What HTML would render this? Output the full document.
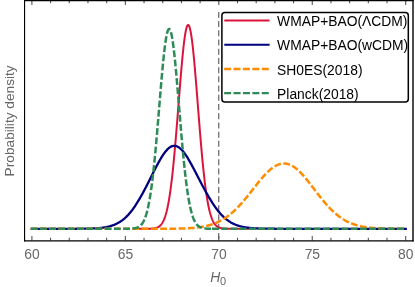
<!DOCTYPE html><html><head><meta charset="utf-8"><style>html,body{margin:0;padding:0;background:#fff}svg{display:block;will-change:transform}text{font-family:"Liberation Sans",sans-serif}</style></head><body>
<svg width="415" height="287" viewBox="0 0 415 287">
<rect width="415" height="287" fill="#fff"/>
<line x1="218.7" y1="11.9" x2="218.7" y2="240.5" stroke="#777" stroke-width="1.35" stroke-dasharray="6.0 3.21"/>
<path d="M138.00 228.80 L138.14 228.80 L138.28 228.80 L138.43 228.80 L138.57 228.80 L138.71 228.80 L138.85 228.80 L139.00 228.80 L139.14 228.80 L139.28 228.80 L139.43 228.80 L139.57 228.80 L139.71 228.80 L139.85 228.80 L140.00 228.80 L140.14 228.80 L140.28 228.80 L140.42 228.80 L140.56 228.80 L140.71 228.80 L140.85 228.80 L140.99 228.80 L141.13 228.80 L141.28 228.80 L141.42 228.80 L141.56 228.80 L141.71 228.80 L141.85 228.80 L141.99 228.80 L142.13 228.80 L142.28 228.80 L142.42 228.80 L142.56 228.80 L142.70 228.80 L142.84 228.80 L142.99 228.80 L143.13 228.80 L143.27 228.80 L143.41 228.80 L143.56 228.79 L143.70 228.79 L143.84 228.79 L143.99 228.79 L144.13 228.79 L144.27 228.79 L144.41 228.79 L144.56 228.79 L144.70 228.79 L144.84 228.79 L144.98 228.79 L145.12 228.79 L145.27 228.79 L145.41 228.79 L145.55 228.79 L145.69 228.79 L145.84 228.78 L145.98 228.78 L146.12 228.78 L146.26 228.78 L146.41 228.78 L146.55 228.78 L146.69 228.78 L146.84 228.78 L146.98 228.78 L147.12 228.77 L147.26 228.77 L147.41 228.77 L147.55 228.77 L147.69 228.77 L147.83 228.76 L147.97 228.76 L148.12 228.76 L148.26 228.76 L148.40 228.75 L148.54 228.75 L148.69 228.75 L148.83 228.74 L148.97 228.74 L149.12 228.74 L149.26 228.73 L149.40 228.73 L149.54 228.73 L149.69 228.72 L149.83 228.72 L149.97 228.71 L150.11 228.71 L150.25 228.70 L150.40 228.70 L150.54 228.69 L150.68 228.68 L150.82 228.68 L150.97 228.67 L151.11 228.66 L151.25 228.65 L151.40 228.64 L151.54 228.64 L151.68 228.63 L151.82 228.62 L151.97 228.61 L152.11 228.60 L152.25 228.58 L152.39 228.57 L152.53 228.56 L152.68 228.55 L152.82 228.53 L152.96 228.52 L153.10 228.50 L153.25 228.49 L153.39 228.47 L153.53 228.45 L153.68 228.43 L153.82 228.41 L153.96 228.39 L154.10 228.37 L154.25 228.35 L154.39 228.32 L154.53 228.30 L154.67 228.27 L154.81 228.24 L154.96 228.22 L155.10 228.19 L155.24 228.15 L155.38 228.12 L155.53 228.09 L155.67 228.05 L155.81 228.01 L155.95 227.97 L156.10 227.93 L156.24 227.89 L156.38 227.84 L156.53 227.80 L156.67 227.75 L156.81 227.70 L156.95 227.64 L157.09 227.59 L157.24 227.53 L157.38 227.47 L157.52 227.41 L157.66 227.34 L157.81 227.27 L157.95 227.20 L158.09 227.12 L158.24 227.05 L158.38 226.97 L158.52 226.88 L158.66 226.79 L158.81 226.70 L158.95 226.61 L159.09 226.51 L159.23 226.40 L159.38 226.30 L159.52 226.19 L159.66 226.07 L159.80 225.95 L159.94 225.83 L160.09 225.70 L160.23 225.56 L160.37 225.42 L160.51 225.28 L160.66 225.13 L160.80 224.97 L160.94 224.81 L161.09 224.64 L161.23 224.47 L161.37 224.29 L161.51 224.10 L161.66 223.91 L161.80 223.71 L161.94 223.51 L162.08 223.29 L162.22 223.07 L162.37 222.84 L162.51 222.61 L162.65 222.36 L162.80 222.11 L162.94 221.85 L163.08 221.58 L163.22 221.30 L163.37 221.01 L163.51 220.71 L163.65 220.41 L163.79 220.09 L163.94 219.76 L164.08 219.43 L164.22 219.08 L164.36 218.72 L164.50 218.36 L164.65 217.98 L164.79 217.58 L164.93 217.18 L165.07 216.77 L165.22 216.34 L165.36 215.90 L165.50 215.45 L165.65 214.99 L165.79 214.51 L165.93 214.02 L166.07 213.51 L166.22 213.00 L166.36 212.46 L166.50 211.92 L166.64 211.36 L166.78 210.78 L166.93 210.19 L167.07 209.58 L167.21 208.96 L167.35 208.33 L167.50 207.67 L167.64 207.00 L167.78 206.32 L167.93 205.62 L168.07 204.90 L168.21 204.16 L168.35 203.41 L168.50 202.64 L168.64 201.85 L168.78 201.05 L168.92 200.22 L169.06 199.38 L169.21 198.52 L169.35 197.65 L169.49 196.75 L169.63 195.83 L169.78 194.90 L169.92 193.95 L170.06 192.98 L170.20 191.99 L170.35 190.98 L170.49 189.95 L170.63 188.90 L170.78 187.83 L170.92 186.74 L171.06 185.63 L171.20 184.51 L171.34 183.36 L171.49 182.19 L171.63 181.01 L171.77 179.80 L171.91 178.58 L172.06 177.33 L172.20 176.07 L172.34 174.78 L172.49 173.48 L172.63 172.16 L172.77 170.82 L172.91 169.46 L173.06 168.08 L173.20 166.68 L173.34 165.27 L173.48 163.83 L173.62 162.38 L173.77 160.91 L173.91 159.42 L174.05 157.92 L174.19 156.40 L174.34 154.86 L174.48 153.30 L174.62 151.73 L174.76 150.14 L174.91 148.54 L175.05 146.93 L175.19 145.29 L175.34 143.65 L175.48 141.99 L175.62 140.32 L175.76 138.63 L175.91 136.93 L176.05 135.22 L176.19 133.50 L176.33 131.77 L176.47 130.03 L176.62 128.28 L176.76 126.52 L176.90 124.75 L177.05 122.97 L177.19 121.19 L177.33 119.40 L177.47 117.60 L177.62 115.80 L177.76 114.00 L177.90 112.19 L178.04 110.38 L178.19 108.57 L178.33 106.75 L178.47 104.93 L178.61 103.12 L178.75 101.30 L178.90 99.49 L179.04 97.68 L179.18 95.87 L179.32 94.07 L179.47 92.27 L179.61 90.48 L179.75 88.69 L179.90 86.92 L180.04 85.15 L180.18 83.39 L180.32 81.64 L180.47 79.90 L180.61 78.17 L180.75 76.46 L180.89 74.76 L181.03 73.07 L181.18 71.40 L181.32 69.75 L181.46 68.11 L181.60 66.49 L181.75 64.89 L181.89 63.31 L182.03 61.75 L182.18 60.22 L182.32 58.70 L182.46 57.21 L182.60 55.75 L182.75 54.31 L182.89 52.89 L183.03 51.50 L183.17 50.14 L183.31 48.81 L183.46 47.50 L183.60 46.23 L183.74 44.99 L183.88 43.78 L184.03 42.60 L184.17 41.45 L184.31 40.34 L184.45 39.26 L184.60 38.22 L184.74 37.21 L184.88 36.24 L185.03 35.31 L185.17 34.41 L185.31 33.55 L185.45 32.73 L185.59 31.95 L185.74 31.21 L185.88 30.50 L186.02 29.84 L186.16 29.22 L186.31 28.64 L186.45 28.11 L186.59 27.61 L186.74 27.16 L186.88 26.75 L187.02 26.38 L187.16 26.05 L187.31 25.77 L187.45 25.53 L187.59 25.34 L187.73 25.19 L187.88 25.08 L188.02 25.02 L188.16 25.00 L188.30 25.03 L188.44 25.09 L188.59 25.21 L188.73 25.36 L188.87 25.56 L189.01 25.81 L189.16 26.10 L189.30 26.43 L189.44 26.80 L189.59 27.22 L189.73 27.68 L189.87 28.18 L190.01 28.72 L190.16 29.31 L190.30 29.93 L190.44 30.60 L190.58 31.31 L190.72 32.06 L190.87 32.84 L191.01 33.67 L191.15 34.53 L191.30 35.44 L191.44 36.37 L191.58 37.35 L191.72 38.36 L191.87 39.41 L192.01 40.49 L192.15 41.61 L192.29 42.76 L192.44 43.95 L192.58 45.16 L192.72 46.41 L192.86 47.69 L193.00 48.99 L193.15 50.33 L193.29 51.69 L193.43 53.09 L193.57 54.51 L193.72 55.95 L193.86 57.42 L194.00 58.91 L194.15 60.43 L194.29 61.97 L194.43 63.53 L194.57 65.12 L194.72 66.72 L194.86 68.34 L195.00 69.98 L195.14 71.63 L195.28 73.31 L195.43 74.99 L195.57 76.70 L195.71 78.41 L195.85 80.14 L196.00 81.88 L196.14 83.63 L196.28 85.39 L196.43 87.16 L196.57 88.94 L196.71 90.73 L196.85 92.52 L197.00 94.32 L197.14 96.13 L197.28 97.93 L197.42 99.74 L197.56 101.56 L197.71 103.37 L197.85 105.19 L197.99 107.00 L198.13 108.82 L198.28 110.63 L198.42 112.44 L198.56 114.25 L198.70 116.06 L198.85 117.86 L198.99 119.65 L199.13 121.44 L199.28 123.22 L199.42 125.00 L199.56 126.77 L199.70 128.52 L199.84 130.27 L199.99 132.01 L200.13 133.74 L200.27 135.46 L200.41 137.17 L200.56 138.87 L200.70 140.55 L200.84 142.22 L200.99 143.88 L201.13 145.52 L201.27 147.15 L201.41 148.77 L201.56 150.37 L201.70 151.95 L201.84 153.52 L201.98 155.07 L202.12 156.61 L202.27 158.13 L202.41 159.63 L202.55 161.12 L202.69 162.58 L202.84 164.03 L202.98 165.47 L203.12 166.88 L203.26 168.27 L203.41 169.65 L203.55 171.01 L203.69 172.35 L203.83 173.67 L203.98 174.97 L204.12 176.25 L204.26 177.51 L204.41 178.75 L204.55 179.97 L204.69 181.17 L204.83 182.36 L204.97 183.52 L205.12 184.67 L205.26 185.79 L205.40 186.89 L205.55 187.98 L205.69 189.05 L205.83 190.09 L205.97 191.12 L206.12 192.13 L206.26 193.11 L206.40 194.08 L206.54 195.03 L206.69 195.96 L206.83 196.88 L206.97 197.77 L207.11 198.65 L207.25 199.50 L207.40 200.34 L207.54 201.16 L207.68 201.96 L207.82 202.75 L207.97 203.52 L208.11 204.27 L208.25 205.00 L208.39 205.72 L208.54 206.42 L208.68 207.10 L208.82 207.77 L208.97 208.42 L209.11 209.05 L209.25 209.67 L209.39 210.27 L209.53 210.86 L209.68 211.44 L209.82 211.99 L209.96 212.54 L210.11 213.07 L210.25 213.58 L210.39 214.09 L210.53 214.58 L210.68 215.05 L210.82 215.51 L210.96 215.96 L211.10 216.40 L211.25 216.83 L211.39 217.24 L211.53 217.64 L211.67 218.03 L211.81 218.41 L211.96 218.77 L212.10 219.13 L212.24 219.48 L212.38 219.81 L212.53 220.14 L212.67 220.45 L212.81 220.76 L212.95 221.05 L213.10 221.34 L213.24 221.62 L213.38 221.88 L213.53 222.14 L213.67 222.40 L213.81 222.64 L213.95 222.87 L214.09 223.10 L214.24 223.32 L214.38 223.54 L214.52 223.74 L214.67 223.94 L214.81 224.13 L214.95 224.32 L215.09 224.50 L215.24 224.67 L215.38 224.83 L215.52 225.00 L215.66 225.15 L215.81 225.30 L215.95 225.44 L216.09 225.58 L216.23 225.72 L216.38 225.84 L216.52 225.97 L216.66 226.09 L216.80 226.20 L216.94 226.31 L217.09 226.42 L217.23 226.52 L217.37 226.62 L217.51 226.71 L217.66 226.81 L217.80 226.89 L217.94 226.98 L218.08 227.06 L218.23 227.14 L218.37 227.21 L218.51 227.28 L218.66 227.35 L218.80 227.41 L218.94 227.48 L219.08 227.54 L219.22 227.60 L219.37 227.65 L219.51 227.70 L219.65 227.76 L219.80 227.80 L219.94 227.85 L220.08 227.90 L220.22 227.94 L220.37 227.98 L220.51 228.02 L220.65 228.06 L220.79 228.09 L220.94 228.13 L221.08 228.16 L221.22 228.19 L221.36 228.22 L221.50 228.25 L221.65 228.28 L221.79 228.30 L221.93 228.33 L222.07 228.35 L222.22 228.37 L222.36 228.39 L222.50 228.41 L222.64 228.43 L222.79 228.45 L222.93 228.47 L223.07 228.49 L223.22 228.50 L223.36 228.52 L223.50 228.53 L223.64 228.55 L223.78 228.56 L223.93 228.57 L224.07 228.59 L224.21 228.60 L224.36 228.61 L224.50 228.62 L224.64 228.63 L224.78 228.64 L224.93 228.65 L225.07 228.65 L225.21 228.66 L225.35 228.67 L225.50 228.68 L225.64 228.68 L225.78 228.69 L225.92 228.70 L226.06 228.70 L226.21 228.71 L226.35 228.71 L226.49 228.72 L226.63 228.72 L226.78 228.73 L226.92 228.73 L227.06 228.73 L227.20 228.74 L227.35 228.74 L227.49 228.75 L227.63 228.75 L227.78 228.75 L227.92 228.75 L228.06 228.76 L228.20 228.76 L228.34 228.76 L228.49 228.76 L228.63 228.77 L228.77 228.77 L228.92 228.77 L229.06 228.77 L229.20 228.77 L229.34 228.78 L229.49 228.78 L229.63 228.78 L229.77 228.78 L229.91 228.78 L230.06 228.78 L230.20 228.78 L230.34 228.78 L230.48 228.79 L230.62 228.79 L230.77 228.79 L230.91 228.79 L231.05 228.79 L231.19 228.79 L231.34 228.79 L231.48 228.79 L231.62 228.79 L231.76 228.79 L231.91 228.79 L232.05 228.79 L232.19 228.79 L232.33 228.79 L232.48 228.79 L232.62 228.79 L232.76 228.79 L232.91 228.80 L233.05 228.80 L233.19 228.80 L233.33 228.80 L233.47 228.80 L233.62 228.80 L233.76 228.80 L233.90 228.80 L234.05 228.80 L234.19 228.80 L234.33 228.80 L234.47 228.80 L234.62 228.80 L234.76 228.80 L234.90 228.80 L235.04 228.80 L235.19 228.80 L235.33 228.80 L235.47 228.80 L235.61 228.80 L235.75 228.80 L235.90 228.80 L236.04 228.80 L236.18 228.80 L236.32 228.80 L236.47 228.80 L236.61 228.80 L236.75 228.80 L236.89 228.80 L237.04 228.80 L237.18 228.80 L237.32 228.80 L237.47 228.80 L237.61 228.80 L237.75 228.80 L237.89 228.80 L238.03 228.80 L238.18 228.80 L238.32 228.80 L238.46 228.80 L238.61 228.80 L238.75 228.80 L238.89 228.80 L239.03 228.80 L239.18 228.80 L239.32 228.80 L239.46 228.80 L239.60 228.80 L239.75 228.80 L239.89 228.80 L240.03 228.80 L240.17 228.80 L240.31 228.80 L240.46 228.80 L240.60 228.80 L240.74 228.80 L240.88 228.80 L241.03 228.80 L241.17 228.80 L241.31 228.80 L241.45 228.80 L241.60 228.80 L241.74 228.80 L241.88 228.80 L242.03 228.80 L242.17 228.80 L242.31 228.80 L242.45 228.80 L242.59 228.80 L242.74 228.80 L242.88 228.80 L243.02 228.80 L243.17 228.80 L243.31 228.80 L243.45 228.80 L243.59 228.80 L243.74 228.80 L243.88 228.80 L244.02 228.80 L244.16 228.80 L244.31 228.80 L244.45 228.80 L244.59 228.80 L244.73 228.80 L244.88 228.80 L245.02 228.80 L245.16 228.80 L245.30 228.80 L245.44 228.80 L245.59 228.80 L245.73 228.80 L245.87 228.80 L246.01 228.80 L246.16 228.80 L246.30 228.80 L246.44 228.80 L246.58 228.80 L246.73 228.80 L246.87 228.80 L247.01 228.80 L247.16 228.80 L247.30 228.80 L247.44 228.80 L247.58 228.80 L247.72 228.80 L247.87 228.80 L248.01 228.80 L248.15 228.80 L248.30 228.80 L248.44 228.80 L248.58 228.80 L248.72 228.80 L248.87 228.80 L249.01 228.80 L249.15 228.80 L249.29 228.80 L249.44 228.80 L249.58 228.80 L249.72 228.80 L249.86 228.80 L250.00 228.80 L250.15 228.80 L250.29 228.80 L250.43 228.80 L250.57 228.80 L250.72 228.80 L250.86 228.80 L251.00 228.80 L251.14 228.80 L251.29 228.80 L251.43 228.80 L251.57 228.80 L251.72 228.80 L251.86 228.80 L252.00 228.80" fill="none" stroke="#dc143c" stroke-width="2.00" stroke-linecap="square" stroke-linejoin="round"/>
<path d="M31.90 228.80 L32.37 228.80 L32.83 228.80 L33.30 228.80 L33.77 228.80 L34.24 228.80 L34.70 228.80 L35.17 228.80 L35.64 228.80 L36.11 228.80 L36.57 228.80 L37.04 228.80 L37.51 228.80 L37.97 228.80 L38.44 228.80 L38.91 228.80 L39.38 228.80 L39.84 228.80 L40.31 228.80 L40.78 228.80 L41.24 228.80 L41.71 228.80 L42.18 228.80 L42.65 228.80 L43.11 228.80 L43.58 228.80 L44.05 228.80 L44.52 228.80 L44.98 228.80 L45.45 228.80 L45.92 228.80 L46.38 228.80 L46.85 228.80 L47.32 228.80 L47.79 228.80 L48.25 228.80 L48.72 228.80 L49.19 228.80 L49.66 228.80 L50.12 228.80 L50.59 228.80 L51.06 228.80 L51.52 228.80 L51.99 228.80 L52.46 228.80 L52.93 228.80 L53.39 228.80 L53.86 228.80 L54.33 228.80 L54.80 228.80 L55.26 228.80 L55.73 228.80 L56.20 228.80 L56.66 228.80 L57.13 228.80 L57.60 228.80 L58.07 228.80 L58.53 228.80 L59.00 228.80 L59.47 228.80 L59.94 228.80 L60.40 228.80 L60.87 228.80 L61.34 228.80 L61.80 228.80 L62.27 228.80 L62.74 228.80 L63.21 228.80 L63.67 228.80 L64.14 228.80 L64.61 228.80 L65.07 228.80 L65.54 228.80 L66.01 228.80 L66.48 228.80 L66.94 228.79 L67.41 228.79 L67.88 228.79 L68.35 228.79 L68.81 228.79 L69.28 228.79 L69.75 228.79 L70.21 228.79 L70.68 228.79 L71.15 228.79 L71.62 228.79 L72.08 228.79 L72.55 228.79 L73.02 228.78 L73.49 228.78 L73.95 228.78 L74.42 228.78 L74.89 228.78 L75.35 228.78 L75.82 228.78 L76.29 228.77 L76.76 228.77 L77.22 228.77 L77.69 228.77 L78.16 228.76 L78.62 228.76 L79.09 228.76 L79.56 228.76 L80.03 228.75 L80.49 228.75 L80.96 228.74 L81.43 228.74 L81.90 228.74 L82.36 228.73 L82.83 228.73 L83.30 228.72 L83.76 228.71 L84.23 228.71 L84.70 228.70 L85.17 228.69 L85.63 228.69 L86.10 228.68 L86.57 228.67 L87.04 228.66 L87.50 228.65 L87.97 228.64 L88.44 228.63 L88.90 228.62 L89.37 228.61 L89.84 228.59 L90.31 228.58 L90.77 228.56 L91.24 228.55 L91.71 228.53 L92.18 228.51 L92.64 228.49 L93.11 228.47 L93.58 228.45 L94.04 228.43 L94.51 228.40 L94.98 228.38 L95.45 228.35 L95.91 228.32 L96.38 228.29 L96.85 228.26 L97.31 228.23 L97.78 228.19 L98.25 228.15 L98.72 228.12 L99.18 228.07 L99.65 228.03 L100.12 227.98 L100.59 227.93 L101.05 227.88 L101.52 227.83 L101.99 227.77 L102.45 227.71 L102.92 227.65 L103.39 227.58 L103.86 227.51 L104.32 227.44 L104.79 227.36 L105.26 227.28 L105.73 227.20 L106.19 227.11 L106.66 227.02 L107.13 226.92 L107.59 226.82 L108.06 226.72 L108.53 226.61 L109.00 226.49 L109.46 226.37 L109.93 226.24 L110.40 226.11 L110.87 225.97 L111.33 225.83 L111.80 225.68 L112.27 225.52 L112.73 225.36 L113.20 225.19 L113.67 225.01 L114.14 224.83 L114.60 224.64 L115.07 224.44 L115.54 224.23 L116.00 224.02 L116.47 223.80 L116.94 223.56 L117.41 223.32 L117.87 223.07 L118.34 222.82 L118.81 222.55 L119.28 222.27 L119.74 221.99 L120.21 221.69 L120.68 221.38 L121.14 221.06 L121.61 220.74 L122.08 220.40 L122.55 220.05 L123.01 219.69 L123.48 219.31 L123.95 218.93 L124.42 218.53 L124.88 218.12 L125.35 217.70 L125.82 217.27 L126.28 216.83 L126.75 216.37 L127.22 215.90 L127.69 215.42 L128.15 214.92 L128.62 214.41 L129.09 213.89 L129.56 213.35 L130.02 212.80 L130.49 212.24 L130.96 211.66 L131.42 211.08 L131.89 210.47 L132.36 209.86 L132.83 209.22 L133.29 208.58 L133.76 207.92 L134.23 207.25 L134.69 206.57 L135.16 205.87 L135.63 205.16 L136.10 204.44 L136.56 203.71 L137.03 202.97 L137.50 202.22 L137.97 201.46 L138.43 200.69 L138.90 199.91 L139.37 199.12 L139.83 198.32 L140.30 197.51 L140.77 196.70 L141.24 195.87 L141.70 195.04 L142.17 194.20 L142.64 193.35 L143.11 192.49 L143.57 191.62 L144.04 190.75 L144.51 189.87 L144.97 188.99 L145.44 188.09 L145.91 187.20 L146.38 186.29 L146.84 185.38 L147.31 184.47 L147.78 183.55 L148.25 182.63 L148.71 181.71 L149.18 180.78 L149.65 179.85 L150.11 178.91 L150.58 177.98 L151.05 177.05 L151.52 176.11 L151.98 175.18 L152.45 174.24 L152.92 173.31 L153.38 172.38 L153.85 171.45 L154.32 170.53 L154.79 169.61 L155.25 168.70 L155.72 167.79 L156.19 166.89 L156.66 165.99 L157.12 165.11 L157.59 164.23 L158.06 163.36 L158.52 162.50 L158.99 161.66 L159.46 160.83 L159.93 160.01 L160.39 159.20 L160.86 158.41 L161.33 157.63 L161.80 156.87 L162.26 156.13 L162.73 155.41 L163.20 154.71 L163.66 154.03 L164.13 153.37 L164.60 152.73 L165.07 152.11 L165.53 151.52 L166.00 150.95 L166.47 150.41 L166.94 149.90 L167.40 149.41 L167.87 148.95 L168.34 148.52 L168.80 148.12 L169.27 147.75 L169.74 147.41 L170.21 147.10 L170.67 146.82 L171.14 146.58 L171.61 146.37 L172.08 146.19 L172.54 146.04 L173.01 145.93 L173.48 145.85 L173.94 145.81 L174.41 145.80 L174.88 145.83 L175.35 145.88 L175.81 145.98 L176.28 146.10 L176.75 146.26 L177.21 146.45 L177.68 146.67 L178.15 146.93 L178.62 147.22 L179.08 147.53 L179.55 147.88 L180.02 148.26 L180.49 148.67 L180.95 149.10 L181.42 149.56 L181.89 150.05 L182.35 150.57 L182.82 151.11 L183.29 151.67 L183.76 152.26 L184.22 152.87 L184.69 153.51 L185.16 154.16 L185.63 154.84 L186.09 155.53 L186.56 156.24 L187.03 156.97 L187.49 157.71 L187.96 158.47 L188.43 159.25 L188.90 160.04 L189.36 160.84 L189.83 161.65 L190.30 162.48 L190.77 163.32 L191.23 164.16 L191.70 165.02 L192.17 165.88 L192.63 166.75 L193.10 167.63 L193.57 168.51 L194.04 169.40 L194.50 170.29 L194.97 171.18 L195.44 172.08 L195.90 172.98 L196.37 173.89 L196.84 174.79 L197.31 175.70 L197.77 176.60 L198.24 177.51 L198.71 178.41 L199.18 179.32 L199.64 180.22 L200.11 181.12 L200.58 182.02 L201.04 182.91 L201.51 183.80 L201.98 184.69 L202.45 185.57 L202.91 186.45 L203.38 187.32 L203.85 188.19 L204.32 189.05 L204.78 189.91 L205.25 190.76 L205.72 191.60 L206.18 192.44 L206.65 193.27 L207.12 194.09 L207.59 194.90 L208.05 195.71 L208.52 196.51 L208.99 197.31 L209.46 198.09 L209.92 198.87 L210.39 199.63 L210.86 200.39 L211.32 201.15 L211.79 201.89 L212.26 202.62 L212.73 203.35 L213.19 204.06 L213.66 204.77 L214.13 205.47 L214.59 206.16 L215.06 206.83 L215.53 207.49 L216.00 208.14 L216.46 208.78 L216.93 209.41 L217.40 210.02 L217.87 210.62 L218.33 211.20 L218.80 211.78 L219.27 212.34 L219.73 212.88 L220.20 213.42 L220.67 213.94 L221.14 214.45 L221.60 214.94 L222.07 215.43 L222.54 215.90 L223.01 216.36 L223.47 216.80 L223.94 217.24 L224.41 217.66 L224.87 218.07 L225.34 218.47 L225.81 218.86 L226.28 219.24 L226.74 219.61 L227.21 219.96 L227.68 220.30 L228.15 220.64 L228.61 220.96 L229.08 221.28 L229.55 221.58 L230.01 221.87 L230.48 222.16 L230.95 222.43 L231.42 222.70 L231.88 222.95 L232.35 223.20 L232.82 223.44 L233.28 223.67 L233.75 223.89 L234.22 224.10 L234.69 224.31 L235.15 224.51 L235.62 224.70 L236.09 224.89 L236.56 225.06 L237.02 225.23 L237.49 225.40 L237.96 225.56 L238.42 225.71 L238.89 225.85 L239.36 225.99 L239.83 226.13 L240.29 226.25 L240.76 226.38 L241.23 226.49 L241.70 226.61 L242.16 226.72 L242.63 226.82 L243.10 226.92 L243.56 227.01 L244.03 227.10 L244.50 227.19 L244.97 227.27 L245.43 227.35 L245.90 227.43 L246.37 227.50 L246.84 227.57 L247.30 227.63 L247.77 227.69 L248.24 227.75 L248.70 227.81 L249.17 227.86 L249.64 227.91 L250.11 227.96 L250.57 228.01 L251.04 228.05 L251.51 228.10 L251.97 228.13 L252.44 228.17 L252.91 228.21 L253.38 228.24 L253.84 228.27 L254.31 228.30 L254.78 228.33 L255.25 228.36 L255.71 228.39 L256.18 228.41 L256.65 228.43 L257.11 228.46 L257.58 228.48 L258.05 228.50 L258.52 228.51 L258.98 228.53 L259.45 228.55 L259.92 228.56 L260.39 228.58 L260.85 228.59 L261.32 228.61 L261.79 228.62 L262.25 228.63 L262.72 228.64 L263.19 228.65 L263.66 228.66 L264.12 228.67 L264.59 228.68 L265.06 228.69 L265.52 228.69 L265.99 228.70 L266.46 228.71 L266.93 228.71 L267.39 228.72 L267.86 228.72 L268.33 228.73 L268.80 228.73 L269.26 228.74 L269.73 228.74 L270.20 228.75 L270.66 228.75 L271.13 228.75 L271.60 228.76 L272.07 228.76 L272.53 228.76 L273.00 228.77 L273.47 228.77 L273.94 228.77 L274.40 228.77 L274.87 228.77 L275.34 228.78 L275.80 228.78 L276.27 228.78 L276.74 228.78 L277.21 228.78 L277.67 228.78 L278.14 228.79 L278.61 228.79 L279.08 228.79 L279.54 228.79 L280.01 228.79 L280.48 228.79 L280.94 228.79 L281.41 228.79 L281.88 228.79 L282.35 228.79 L282.81 228.79 L283.28 228.79 L283.75 228.79 L284.21 228.79 L284.68 228.80 L285.15 228.80 L285.62 228.80 L286.08 228.80 L286.55 228.80 L287.02 228.80 L287.49 228.80 L287.95 228.80 L288.42 228.80 L288.89 228.80 L289.35 228.80 L289.82 228.80 L290.29 228.80 L290.76 228.80 L291.22 228.80 L291.69 228.80 L292.16 228.80 L292.63 228.80 L293.09 228.80 L293.56 228.80 L294.03 228.80 L294.49 228.80 L294.96 228.80 L295.43 228.80 L295.90 228.80 L296.36 228.80 L296.83 228.80 L297.30 228.80 L297.77 228.80 L298.23 228.80 L298.70 228.80 L299.17 228.80 L299.63 228.80 L300.10 228.80 L300.57 228.80 L301.04 228.80 L301.50 228.80 L301.97 228.80 L302.44 228.80 L302.90 228.80 L303.37 228.80 L303.84 228.80 L304.31 228.80 L304.77 228.80 L305.24 228.80 L305.71 228.80 L306.18 228.80 L306.64 228.80 L307.11 228.80 L307.58 228.80 L308.04 228.80 L308.51 228.80 L308.98 228.80 L309.45 228.80 L309.91 228.80 L310.38 228.80 L310.85 228.80 L311.32 228.80 L311.78 228.80 L312.25 228.80 L312.72 228.80 L313.18 228.80 L313.65 228.80 L314.12 228.80 L314.59 228.80 L315.05 228.80 L315.52 228.80 L315.99 228.80 L316.46 228.80 L316.92 228.80 L317.39 228.80 L317.86 228.80 L318.32 228.80 L318.79 228.80 L319.26 228.80 L319.73 228.80 L320.19 228.80 L320.66 228.80 L321.13 228.80 L321.59 228.80 L322.06 228.80 L322.53 228.80 L323.00 228.80 L323.46 228.80 L323.93 228.80 L324.40 228.80 L324.87 228.80 L325.33 228.80 L325.80 228.80 L326.27 228.80 L326.73 228.80 L327.20 228.80 L327.67 228.80 L328.14 228.80 L328.60 228.80 L329.07 228.80 L329.54 228.80 L330.01 228.80 L330.47 228.80 L330.94 228.80 L331.41 228.80 L331.87 228.80 L332.34 228.80 L332.81 228.80 L333.28 228.80 L333.74 228.80 L334.21 228.80 L334.68 228.80 L335.15 228.80 L335.61 228.80 L336.08 228.80 L336.55 228.80 L337.01 228.80 L337.48 228.80 L337.95 228.80 L338.42 228.80 L338.88 228.80 L339.35 228.80 L339.82 228.80 L340.28 228.80 L340.75 228.80 L341.22 228.80 L341.69 228.80 L342.15 228.80 L342.62 228.80 L343.09 228.80 L343.56 228.80 L344.02 228.80 L344.49 228.80 L344.96 228.80 L345.42 228.80 L345.89 228.80 L346.36 228.80 L346.83 228.80 L347.29 228.80 L347.76 228.80 L348.23 228.80 L348.70 228.80 L349.16 228.80 L349.63 228.80 L350.10 228.80 L350.56 228.80 L351.03 228.80 L351.50 228.80 L351.97 228.80 L352.43 228.80 L352.90 228.80 L353.37 228.80 L353.84 228.80 L354.30 228.80 L354.77 228.80 L355.24 228.80 L355.70 228.80 L356.17 228.80 L356.64 228.80 L357.11 228.80 L357.57 228.80 L358.04 228.80 L358.51 228.80 L358.97 228.80 L359.44 228.80 L359.91 228.80 L360.38 228.80 L360.84 228.80 L361.31 228.80 L361.78 228.80 L362.25 228.80 L362.71 228.80 L363.18 228.80 L363.65 228.80 L364.11 228.80 L364.58 228.80 L365.05 228.80 L365.52 228.80 L365.98 228.80 L366.45 228.80 L366.92 228.80 L367.39 228.80 L367.85 228.80 L368.32 228.80 L368.79 228.80 L369.25 228.80 L369.72 228.80 L370.19 228.80 L370.66 228.80 L371.12 228.80 L371.59 228.80 L372.06 228.80 L372.53 228.80 L372.99 228.80 L373.46 228.80 L373.93 228.80 L374.39 228.80 L374.86 228.80 L375.33 228.80 L375.80 228.80 L376.26 228.80 L376.73 228.80 L377.20 228.80 L377.66 228.80 L378.13 228.80 L378.60 228.80 L379.07 228.80 L379.53 228.80 L380.00 228.80 L380.47 228.80 L380.94 228.80 L381.40 228.80 L381.87 228.80 L382.34 228.80 L382.80 228.80 L383.27 228.80 L383.74 228.80 L384.21 228.80 L384.67 228.80 L385.14 228.80 L385.61 228.80 L386.08 228.80 L386.54 228.80 L387.01 228.80 L387.48 228.80 L387.94 228.80 L388.41 228.80 L388.88 228.80 L389.35 228.80 L389.81 228.80 L390.28 228.80 L390.75 228.80 L391.22 228.80 L391.68 228.80 L392.15 228.80 L392.62 228.80 L393.08 228.80 L393.55 228.80 L394.02 228.80 L394.49 228.80 L394.95 228.80 L395.42 228.80 L395.89 228.80 L396.35 228.80 L396.82 228.80 L397.29 228.80 L397.76 228.80 L398.22 228.80 L398.69 228.80 L399.16 228.80 L399.63 228.80 L400.09 228.80 L400.56 228.80 L401.03 228.80 L401.49 228.80 L401.96 228.80 L402.43 228.80 L402.90 228.80 L403.36 228.80 L403.83 228.80 L404.30 228.80 L404.77 228.80 L405.23 228.80 L405.70 228.80" fill="none" stroke="#000080" stroke-width="2.30" stroke-linecap="square" stroke-linejoin="round"/>
<path d="M31.90 228.80 L32.37 228.80 L32.83 228.80 L33.30 228.80 L33.77 228.80 L34.24 228.80 L34.70 228.80 L35.17 228.80 L35.64 228.80 L36.11 228.80 L36.57 228.80 L37.04 228.80 L37.51 228.80 L37.97 228.80 L38.44 228.80 L38.91 228.80 L39.38 228.80 L39.84 228.80 L40.31 228.80 L40.78 228.80 L41.24 228.80 L41.71 228.80 L42.18 228.80 L42.65 228.80 L43.11 228.80 L43.58 228.80 L44.05 228.80 L44.52 228.80 L44.98 228.80 L45.45 228.80 L45.92 228.80 L46.38 228.80 L46.85 228.80 L47.32 228.80 L47.79 228.80 L48.25 228.80 L48.72 228.80 L49.19 228.80 L49.66 228.80 L50.12 228.80 L50.59 228.80 L51.06 228.80 L51.52 228.80 L51.99 228.80 L52.46 228.80 L52.93 228.80 L53.39 228.80 L53.86 228.80 L54.33 228.80 L54.80 228.80 L55.26 228.80 L55.73 228.80 L56.20 228.80 L56.66 228.80 L57.13 228.80 L57.60 228.80 L58.07 228.80 L58.53 228.80 L59.00 228.80 L59.47 228.80 L59.94 228.80 L60.40 228.80 L60.87 228.80 L61.34 228.80 L61.80 228.80 L62.27 228.80 L62.74 228.80 L63.21 228.80 L63.67 228.80 L64.14 228.80 L64.61 228.80 L65.07 228.80 L65.54 228.80 L66.01 228.80 L66.48 228.80 L66.94 228.80 L67.41 228.80 L67.88 228.80 L68.35 228.80 L68.81 228.80 L69.28 228.80 L69.75 228.80 L70.21 228.80 L70.68 228.80 L71.15 228.80 L71.62 228.80 L72.08 228.80 L72.55 228.80 L73.02 228.80 L73.49 228.80 L73.95 228.80 L74.42 228.80 L74.89 228.80 L75.35 228.80 L75.82 228.80 L76.29 228.80 L76.76 228.80 L77.22 228.80 L77.69 228.80 L78.16 228.80 L78.62 228.80 L79.09 228.80 L79.56 228.80 L80.03 228.80 L80.49 228.80 L80.96 228.80 L81.43 228.80 L81.90 228.80 L82.36 228.80 L82.83 228.80 L83.30 228.80 L83.76 228.80 L84.23 228.80 L84.70 228.80 L85.17 228.80 L85.63 228.80 L86.10 228.80 L86.57 228.80 L87.04 228.80 L87.50 228.80 L87.97 228.80 L88.44 228.80 L88.90 228.80 L89.37 228.80 L89.84 228.80 L90.31 228.80 L90.77 228.80 L91.24 228.80 L91.71 228.80 L92.18 228.80 L92.64 228.80 L93.11 228.80 L93.58 228.80 L94.04 228.80 L94.51 228.80 L94.98 228.80 L95.45 228.80 L95.91 228.80 L96.38 228.80 L96.85 228.80 L97.31 228.80 L97.78 228.80 L98.25 228.80 L98.72 228.80 L99.18 228.80 L99.65 228.80 L100.12 228.80 L100.59 228.80 L101.05 228.80 L101.52 228.80 L101.99 228.80 L102.45 228.80 L102.92 228.80 L103.39 228.80 L103.86 228.80 L104.32 228.80 L104.79 228.80 L105.26 228.80 L105.73 228.80 L106.19 228.80 L106.66 228.80 L107.13 228.80 L107.59 228.80 L108.06 228.80 L108.53 228.80 L109.00 228.80 L109.46 228.80 L109.93 228.80 L110.40 228.80 L110.87 228.80 L111.33 228.80 L111.80 228.80 L112.27 228.80 L112.73 228.80 L113.20 228.80 L113.67 228.80 L114.14 228.80 L114.60 228.80 L115.07 228.80 L115.54 228.80 L116.00 228.80 L116.47 228.80 L116.94 228.80 L117.41 228.80 L117.87 228.80 L118.34 228.80 L118.81 228.80 L119.28 228.80 L119.74 228.80 L120.21 228.80 L120.68 228.80 L121.14 228.80 L121.61 228.80 L122.08 228.80 L122.55 228.80 L123.01 228.80 L123.48 228.80 L123.95 228.80 L124.42 228.80 L124.88 228.80 L125.35 228.80 L125.82 228.80 L126.28 228.80 L126.75 228.80 L127.22 228.80 L127.69 228.80 L128.15 228.80 L128.62 228.80 L129.09 228.80 L129.56 228.80 L130.02 228.80 L130.49 228.80 L130.96 228.80 L131.42 228.80 L131.89 228.80 L132.36 228.80 L132.83 228.80 L133.29 228.80 L133.76 228.80 L134.23 228.80 L134.69 228.80 L135.16 228.80 L135.63 228.80 L136.10 228.80 L136.56 228.80 L137.03 228.80 L137.50 228.80 L137.97 228.80 L138.43 228.80 L138.90 228.80 L139.37 228.80 L139.83 228.80 L140.30 228.80 L140.77 228.80 L141.24 228.80 L141.70 228.80 L142.17 228.80 L142.64 228.80 L143.11 228.80 L143.57 228.80 L144.04 228.80 L144.51 228.80 L144.97 228.80 L145.44 228.80 L145.91 228.80 L146.38 228.80 L146.84 228.80 L147.31 228.80 L147.78 228.80 L148.25 228.80 L148.71 228.80 L149.18 228.79 L149.65 228.79 L150.11 228.79 L150.58 228.79 L151.05 228.79 L151.52 228.79 L151.98 228.79 L152.45 228.79 L152.92 228.79 L153.38 228.79 L153.85 228.79 L154.32 228.79 L154.79 228.79 L155.25 228.79 L155.72 228.79 L156.19 228.79 L156.66 228.79 L157.12 228.78 L157.59 228.78 L158.06 228.78 L158.52 228.78 L158.99 228.78 L159.46 228.78 L159.93 228.78 L160.39 228.78 L160.86 228.78 L161.33 228.77 L161.80 228.77 L162.26 228.77 L162.73 228.77 L163.20 228.77 L163.66 228.77 L164.13 228.76 L164.60 228.76 L165.07 228.76 L165.53 228.76 L166.00 228.75 L166.47 228.75 L166.94 228.75 L167.40 228.74 L167.87 228.74 L168.34 228.74 L168.80 228.73 L169.27 228.73 L169.74 228.73 L170.21 228.72 L170.67 228.72 L171.14 228.71 L171.61 228.71 L172.08 228.70 L172.54 228.70 L173.01 228.69 L173.48 228.69 L173.94 228.68 L174.41 228.67 L174.88 228.67 L175.35 228.66 L175.81 228.65 L176.28 228.64 L176.75 228.64 L177.21 228.63 L177.68 228.62 L178.15 228.61 L178.62 228.60 L179.08 228.59 L179.55 228.58 L180.02 228.56 L180.49 228.55 L180.95 228.54 L181.42 228.53 L181.89 228.51 L182.35 228.50 L182.82 228.48 L183.29 228.47 L183.76 228.45 L184.22 228.43 L184.69 228.41 L185.16 228.40 L185.63 228.38 L186.09 228.35 L186.56 228.33 L187.03 228.31 L187.49 228.29 L187.96 228.26 L188.43 228.24 L188.90 228.21 L189.36 228.18 L189.83 228.15 L190.30 228.12 L190.77 228.09 L191.23 228.06 L191.70 228.02 L192.17 227.99 L192.63 227.95 L193.10 227.91 L193.57 227.87 L194.04 227.83 L194.50 227.79 L194.97 227.74 L195.44 227.70 L195.90 227.65 L196.37 227.60 L196.84 227.55 L197.31 227.49 L197.77 227.44 L198.24 227.38 L198.71 227.32 L199.18 227.25 L199.64 227.19 L200.11 227.12 L200.58 227.05 L201.04 226.98 L201.51 226.91 L201.98 226.83 L202.45 226.75 L202.91 226.67 L203.38 226.58 L203.85 226.49 L204.32 226.40 L204.78 226.31 L205.25 226.21 L205.72 226.11 L206.18 226.00 L206.65 225.90 L207.12 225.78 L207.59 225.67 L208.05 225.55 L208.52 225.43 L208.99 225.30 L209.46 225.18 L209.92 225.04 L210.39 224.90 L210.86 224.76 L211.32 224.62 L211.79 224.47 L212.26 224.31 L212.73 224.15 L213.19 223.99 L213.66 223.82 L214.13 223.65 L214.59 223.47 L215.06 223.29 L215.53 223.10 L216.00 222.91 L216.46 222.71 L216.93 222.51 L217.40 222.30 L217.87 222.09 L218.33 221.87 L218.80 221.65 L219.27 221.42 L219.73 221.18 L220.20 220.94 L220.67 220.70 L221.14 220.44 L221.60 220.19 L222.07 219.92 L222.54 219.65 L223.01 219.38 L223.47 219.09 L223.94 218.80 L224.41 218.51 L224.87 218.21 L225.34 217.90 L225.81 217.59 L226.28 217.27 L226.74 216.94 L227.21 216.60 L227.68 216.26 L228.15 215.92 L228.61 215.57 L229.08 215.21 L229.55 214.84 L230.01 214.47 L230.48 214.09 L230.95 213.70 L231.42 213.31 L231.88 212.91 L232.35 212.50 L232.82 212.09 L233.28 211.67 L233.75 211.25 L234.22 210.81 L234.69 210.37 L235.15 209.93 L235.62 209.48 L236.09 209.02 L236.56 208.56 L237.02 208.09 L237.49 207.61 L237.96 207.13 L238.42 206.64 L238.89 206.15 L239.36 205.65 L239.83 205.14 L240.29 204.63 L240.76 204.11 L241.23 203.59 L241.70 203.07 L242.16 202.53 L242.63 202.00 L243.10 201.46 L243.56 200.91 L244.03 200.36 L244.50 199.80 L244.97 199.25 L245.43 198.68 L245.90 198.12 L246.37 197.55 L246.84 196.97 L247.30 196.40 L247.77 195.82 L248.24 195.23 L248.70 194.65 L249.17 194.06 L249.64 193.47 L250.11 192.88 L250.57 192.29 L251.04 191.69 L251.51 191.10 L251.97 190.50 L252.44 189.91 L252.91 189.31 L253.38 188.71 L253.84 188.12 L254.31 187.52 L254.78 186.92 L255.25 186.33 L255.71 185.74 L256.18 185.15 L256.65 184.56 L257.11 183.97 L257.58 183.38 L258.05 182.80 L258.52 182.22 L258.98 181.65 L259.45 181.08 L259.92 180.51 L260.39 179.95 L260.85 179.39 L261.32 178.83 L261.79 178.28 L262.25 177.74 L262.72 177.21 L263.19 176.67 L263.66 176.15 L264.12 175.63 L264.59 175.12 L265.06 174.62 L265.52 174.13 L265.99 173.64 L266.46 173.16 L266.93 172.69 L267.39 172.23 L267.86 171.78 L268.33 171.33 L268.80 170.90 L269.26 170.48 L269.73 170.06 L270.20 169.66 L270.66 169.27 L271.13 168.89 L271.60 168.52 L272.07 168.16 L272.53 167.82 L273.00 167.48 L273.47 167.16 L273.94 166.85 L274.40 166.56 L274.87 166.27 L275.34 166.00 L275.80 165.74 L276.27 165.50 L276.74 165.27 L277.21 165.05 L277.67 164.85 L278.14 164.66 L278.61 164.48 L279.08 164.32 L279.54 164.17 L280.01 164.04 L280.48 163.92 L280.94 163.82 L281.41 163.73 L281.88 163.65 L282.35 163.59 L282.81 163.55 L283.28 163.52 L283.75 163.50 L284.21 163.50 L284.68 163.52 L285.15 163.55 L285.62 163.59 L286.08 163.66 L286.55 163.73 L287.02 163.83 L287.49 163.93 L287.95 164.06 L288.42 164.20 L288.89 164.35 L289.35 164.52 L289.82 164.70 L290.29 164.90 L290.76 165.11 L291.22 165.34 L291.69 165.58 L292.16 165.84 L292.63 166.11 L293.09 166.39 L293.56 166.69 L294.03 167.00 L294.49 167.33 L294.96 167.66 L295.43 168.01 L295.90 168.37 L296.36 168.75 L296.83 169.14 L297.30 169.53 L297.77 169.94 L298.23 170.36 L298.70 170.79 L299.17 171.24 L299.63 171.69 L300.10 172.15 L300.57 172.62 L301.04 173.11 L301.50 173.60 L301.97 174.10 L302.44 174.60 L302.90 175.12 L303.37 175.64 L303.84 176.17 L304.31 176.71 L304.77 177.26 L305.24 177.81 L305.71 178.37 L306.18 178.93 L306.64 179.50 L307.11 180.07 L307.58 180.65 L308.04 181.24 L308.51 181.83 L308.98 182.42 L309.45 183.01 L309.91 183.61 L310.38 184.21 L310.85 184.82 L311.32 185.42 L311.78 186.03 L312.25 186.64 L312.72 187.25 L313.18 187.86 L313.65 188.47 L314.12 189.09 L314.59 189.70 L315.05 190.31 L315.52 190.92 L315.99 191.54 L316.46 192.15 L316.92 192.75 L317.39 193.36 L317.86 193.97 L318.32 194.57 L318.79 195.17 L319.26 195.77 L319.73 196.36 L320.19 196.96 L320.66 197.54 L321.13 198.13 L321.59 198.71 L322.06 199.29 L322.53 199.86 L323.00 200.43 L323.46 201.00 L323.93 201.56 L324.40 202.11 L324.87 202.66 L325.33 203.20 L325.80 203.74 L326.27 204.28 L326.73 204.81 L327.20 205.33 L327.67 205.85 L328.14 206.36 L328.60 206.86 L329.07 207.36 L329.54 207.85 L330.01 208.34 L330.47 208.81 L330.94 209.29 L331.41 209.75 L331.87 210.21 L332.34 210.67 L332.81 211.11 L333.28 211.55 L333.74 211.98 L334.21 212.41 L334.68 212.83 L335.15 213.24 L335.61 213.64 L336.08 214.04 L336.55 214.43 L337.01 214.81 L337.48 215.19 L337.95 215.56 L338.42 215.92 L338.88 216.28 L339.35 216.62 L339.82 216.97 L340.28 217.30 L340.75 217.63 L341.22 217.95 L341.69 218.27 L342.15 218.57 L342.62 218.88 L343.09 219.17 L343.56 219.46 L344.02 219.74 L344.49 220.02 L344.96 220.28 L345.42 220.55 L345.89 220.80 L346.36 221.05 L346.83 221.30 L347.29 221.54 L347.76 221.77 L348.23 222.00 L348.70 222.22 L349.16 222.43 L349.63 222.64 L350.10 222.85 L350.56 223.05 L351.03 223.24 L351.50 223.43 L351.97 223.61 L352.43 223.79 L352.90 223.96 L353.37 224.13 L353.84 224.29 L354.30 224.45 L354.77 224.61 L355.24 224.76 L355.70 224.90 L356.17 225.04 L356.64 225.18 L357.11 225.31 L357.57 225.44 L358.04 225.57 L358.51 225.69 L358.97 225.80 L359.44 225.92 L359.91 226.03 L360.38 226.13 L360.84 226.24 L361.31 226.33 L361.78 226.43 L362.25 226.52 L362.71 226.61 L363.18 226.70 L363.65 226.78 L364.11 226.86 L364.58 226.94 L365.05 227.02 L365.52 227.09 L365.98 227.16 L366.45 227.23 L366.92 227.29 L367.39 227.36 L367.85 227.42 L368.32 227.48 L368.79 227.53 L369.25 227.59 L369.72 227.64 L370.19 227.69 L370.66 227.74 L371.12 227.78 L371.59 227.83 L372.06 227.87 L372.53 227.91 L372.99 227.95 L373.46 227.99 L373.93 228.02 L374.39 228.06 L374.86 228.09 L375.33 228.13 L375.80 228.16 L376.26 228.19 L376.73 228.21 L377.20 228.24 L377.66 228.27 L378.13 228.29 L378.60 228.32 L379.07 228.34 L379.53 228.36 L380.00 228.38 L380.47 228.40 L380.94 228.42 L381.40 228.44 L381.87 228.46 L382.34 228.47 L382.80 228.49 L383.27 228.51 L383.74 228.52 L384.21 228.53 L384.67 228.55 L385.14 228.56 L385.61 228.57 L386.08 228.58 L386.54 228.60 L387.01 228.61 L387.48 228.62 L387.94 228.63 L388.41 228.63 L388.88 228.64 L389.35 228.65 L389.81 228.66 L390.28 228.67 L390.75 228.67 L391.22 228.68 L391.68 228.69 L392.15 228.69 L392.62 228.70 L393.08 228.70 L393.55 228.71 L394.02 228.71 L394.49 228.72 L394.95 228.72 L395.42 228.73 L395.89 228.73 L396.35 228.74 L396.82 228.74 L397.29 228.74 L397.76 228.75 L398.22 228.75 L398.69 228.75 L399.16 228.75 L399.63 228.76 L400.09 228.76 L400.56 228.76 L401.03 228.76 L401.49 228.77 L401.96 228.77 L402.43 228.77 L402.90 228.77 L403.36 228.77 L403.83 228.78 L404.30 228.78 L404.77 228.78 L405.23 228.78 L405.70 228.78" fill="none" stroke="#ff8c00" stroke-width="2.50" stroke-linecap="square" stroke-linejoin="round" stroke-dasharray="4.300 4.950"/>
<path d="M31.90 228.80 L32.13 228.80 L32.35 228.80 L32.58 228.80 L32.80 228.80 L33.03 228.80 L33.25 228.80 L33.48 228.80 L33.70 228.80 L33.93 228.80 L34.15 228.80 L34.38 228.80 L34.60 228.80 L34.83 228.80 L35.05 228.80 L35.28 228.80 L35.50 228.80 L35.73 228.80 L35.95 228.80 L36.18 228.80 L36.40 228.80 L36.63 228.80 L36.85 228.80 L37.08 228.80 L37.30 228.80 L37.53 228.80 L37.75 228.80 L37.98 228.80 L38.20 228.80 L38.43 228.80 L38.65 228.80 L38.88 228.80 L39.10 228.80 L39.33 228.80 L39.55 228.80 L39.78 228.80 L40.00 228.80 L40.23 228.80 L40.45 228.80 L40.68 228.80 L40.91 228.80 L41.13 228.80 L41.36 228.80 L41.58 228.80 L41.81 228.80 L42.03 228.80 L42.26 228.80 L42.48 228.80 L42.71 228.80 L42.93 228.80 L43.16 228.80 L43.38 228.80 L43.61 228.80 L43.83 228.80 L44.06 228.80 L44.28 228.80 L44.51 228.80 L44.73 228.80 L44.96 228.80 L45.18 228.80 L45.41 228.80 L45.63 228.80 L45.86 228.80 L46.08 228.80 L46.31 228.80 L46.53 228.80 L46.76 228.80 L46.98 228.80 L47.21 228.80 L47.43 228.80 L47.66 228.80 L47.88 228.80 L48.11 228.80 L48.33 228.80 L48.56 228.80 L48.78 228.80 L49.01 228.80 L49.23 228.80 L49.46 228.80 L49.68 228.80 L49.91 228.80 L50.14 228.80 L50.36 228.80 L50.59 228.80 L50.81 228.80 L51.04 228.80 L51.26 228.80 L51.49 228.80 L51.71 228.80 L51.94 228.80 L52.16 228.80 L52.39 228.80 L52.61 228.80 L52.84 228.80 L53.06 228.80 L53.29 228.80 L53.51 228.80 L53.74 228.80 L53.96 228.80 L54.19 228.80 L54.41 228.80 L54.64 228.80 L54.86 228.80 L55.09 228.80 L55.31 228.80 L55.54 228.80 L55.76 228.80 L55.99 228.80 L56.21 228.80 L56.44 228.80 L56.66 228.80 L56.89 228.80 L57.11 228.80 L57.34 228.80 L57.56 228.80 L57.79 228.80 L58.01 228.80 L58.24 228.80 L58.46 228.80 L58.69 228.80 L58.91 228.80 L59.14 228.80 L59.37 228.80 L59.59 228.80 L59.82 228.80 L60.04 228.80 L60.27 228.80 L60.49 228.80 L60.72 228.80 L60.94 228.80 L61.17 228.80 L61.39 228.80 L61.62 228.80 L61.84 228.80 L62.07 228.80 L62.29 228.80 L62.52 228.80 L62.74 228.80 L62.97 228.80 L63.19 228.80 L63.42 228.80 L63.64 228.80 L63.87 228.80 L64.09 228.80 L64.32 228.80 L64.54 228.80 L64.77 228.80 L64.99 228.80 L65.22 228.80 L65.44 228.80 L65.67 228.80 L65.89 228.80 L66.12 228.80 L66.34 228.80 L66.57 228.80 L66.79 228.80 L67.02 228.80 L67.24 228.80 L67.47 228.80 L67.69 228.80 L67.92 228.80 L68.15 228.80 L68.37 228.80 L68.60 228.80 L68.82 228.80 L69.05 228.80 L69.27 228.80 L69.50 228.80 L69.72 228.80 L69.95 228.80 L70.17 228.80 L70.40 228.80 L70.62 228.80 L70.85 228.80 L71.07 228.80 L71.30 228.80 L71.52 228.80 L71.75 228.80 L71.97 228.80 L72.20 228.80 L72.42 228.80 L72.65 228.80 L72.87 228.80 L73.10 228.80 L73.32 228.80 L73.55 228.80 L73.77 228.80 L74.00 228.80 L74.22 228.80 L74.45 228.80 L74.67 228.80 L74.90 228.80 L75.12 228.80 L75.35 228.80 L75.57 228.80 L75.80 228.80 L76.02 228.80 L76.25 228.80 L76.47 228.80 L76.70 228.80 L76.92 228.80 L77.15 228.80 L77.38 228.80 L77.60 228.80 L77.83 228.80 L78.05 228.80 L78.28 228.80 L78.50 228.80 L78.73 228.80 L78.95 228.80 L79.18 228.80 L79.40 228.80 L79.63 228.80 L79.85 228.80 L80.08 228.80 L80.30 228.80 L80.53 228.80 L80.75 228.80 L80.98 228.80 L81.20 228.80 L81.43 228.80 L81.65 228.80 L81.88 228.80 L82.10 228.80 L82.33 228.80 L82.55 228.80 L82.78 228.80 L83.00 228.80 L83.23 228.80 L83.45 228.80 L83.68 228.80 L83.90 228.80 L84.13 228.80 L84.35 228.80 L84.58 228.80 L84.80 228.80 L85.03 228.80 L85.25 228.80 L85.48 228.80 L85.70 228.80 L85.93 228.80 L86.16 228.80 L86.38 228.80 L86.61 228.80 L86.83 228.80 L87.06 228.80 L87.28 228.80 L87.51 228.80 L87.73 228.80 L87.96 228.80 L88.18 228.80 L88.41 228.80 L88.63 228.80 L88.86 228.80 L89.08 228.80 L89.31 228.80 L89.53 228.80 L89.76 228.80 L89.98 228.80 L90.21 228.80 L90.43 228.80 L90.66 228.80 L90.88 228.80 L91.11 228.80 L91.33 228.80 L91.56 228.80 L91.78 228.80 L92.01 228.80 L92.23 228.80 L92.46 228.80 L92.68 228.80 L92.91 228.80 L93.13 228.80 L93.36 228.80 L93.58 228.80 L93.81 228.80 L94.03 228.80 L94.26 228.80 L94.48 228.80 L94.71 228.80 L94.94 228.80 L95.16 228.80 L95.39 228.80 L95.61 228.80 L95.84 228.80 L96.06 228.80 L96.29 228.80 L96.51 228.80 L96.74 228.80 L96.96 228.80 L97.19 228.80 L97.41 228.80 L97.64 228.80 L97.86 228.80 L98.09 228.80 L98.31 228.80 L98.54 228.80 L98.76 228.80 L98.99 228.80 L99.21 228.80 L99.44 228.80 L99.66 228.80 L99.89 228.80 L100.11 228.80 L100.34 228.80 L100.56 228.80 L100.79 228.80 L101.01 228.80 L101.24 228.80 L101.46 228.80 L101.69 228.80 L101.91 228.80 L102.14 228.80 L102.36 228.80 L102.59 228.80 L102.81 228.80 L103.04 228.80 L103.26 228.80 L103.49 228.80 L103.71 228.80 L103.94 228.80 L104.17 228.80 L104.39 228.80 L104.62 228.80 L104.84 228.80 L105.07 228.80 L105.29 228.80 L105.52 228.80 L105.74 228.80 L105.97 228.80 L106.19 228.80 L106.42 228.80 L106.64 228.80 L106.87 228.80 L107.09 228.80 L107.32 228.80 L107.54 228.80 L107.77 228.80 L107.99 228.80 L108.22 228.80 L108.44 228.80 L108.67 228.80 L108.89 228.80 L109.12 228.80 L109.34 228.80 L109.57 228.80 L109.79 228.80 L110.02 228.80 L110.24 228.80 L110.47 228.80 L110.69 228.80 L110.92 228.80 L111.14 228.80 L111.37 228.80 L111.59 228.80 L111.82 228.80 L112.04 228.80 L112.27 228.80 L112.49 228.80 L112.72 228.80 L112.94 228.80 L113.17 228.80 L113.40 228.80 L113.62 228.80 L113.85 228.80 L114.07 228.80 L114.30 228.80 L114.52 228.80 L114.75 228.80 L114.97 228.80 L115.20 228.80 L115.42 228.80 L115.65 228.80 L115.87 228.80 L116.10 228.80 L116.32 228.80 L116.55 228.80 L116.77 228.80 L117.00 228.80 L117.22 228.80 L117.45 228.80 L117.67 228.80 L117.90 228.80 L118.12 228.80 L118.35 228.80 L118.57 228.80 L118.80 228.80 L119.02 228.80 L119.25 228.80 L119.47 228.80 L119.70 228.80 L119.92 228.80 L120.15 228.80 L120.37 228.80 L120.60 228.80 L120.82 228.80 L121.05 228.80 L121.27 228.80 L121.50 228.80 L121.72 228.80 L121.95 228.80 L122.18 228.80 L122.40 228.80 L122.63 228.80 L122.85 228.80 L123.08 228.80 L123.30 228.79 L123.53 228.79 L123.75 228.79 L123.98 228.79 L124.20 228.79 L124.43 228.79 L124.65 228.79 L124.88 228.79 L125.10 228.79 L125.33 228.79 L125.55 228.79 L125.78 228.78 L126.00 228.78 L126.23 228.78 L126.45 228.78 L126.68 228.78 L126.90 228.77 L127.13 228.77 L127.35 228.77 L127.58 228.77 L127.80 228.76 L128.03 228.76 L128.25 228.75 L128.48 228.75 L128.70 228.75 L128.93 228.74 L129.15 228.73 L129.38 228.73 L129.60 228.72 L129.83 228.71 L130.05 228.71 L130.28 228.70 L130.50 228.69 L130.73 228.68 L130.96 228.67 L131.18 228.66 L131.41 228.64 L131.63 228.63 L131.86 228.61 L132.08 228.60 L132.31 228.58 L132.53 228.56 L132.76 228.54 L132.98 228.52 L133.21 228.50 L133.43 228.47 L133.66 228.44 L133.88 228.41 L134.11 228.38 L134.33 228.35 L134.56 228.31 L134.78 228.27 L135.01 228.23 L135.23 228.18 L135.46 228.13 L135.68 228.08 L135.91 228.02 L136.13 227.96 L136.36 227.90 L136.58 227.83 L136.81 227.75 L137.03 227.67 L137.26 227.59 L137.48 227.50 L137.71 227.40 L137.93 227.30 L138.16 227.19 L138.38 227.07 L138.61 226.95 L138.83 226.82 L139.06 226.68 L139.28 226.53 L139.51 226.37 L139.73 226.20 L139.96 226.03 L140.19 225.84 L140.41 225.64 L140.64 225.43 L140.86 225.20 L141.09 224.97 L141.31 224.72 L141.54 224.45 L141.76 224.17 L141.99 223.88 L142.21 223.57 L142.44 223.24 L142.66 222.90 L142.89 222.54 L143.11 222.16 L143.34 221.75 L143.56 221.33 L143.79 220.89 L144.01 220.43 L144.24 219.94 L144.46 219.43 L144.69 218.89 L144.91 218.33 L145.14 217.75 L145.36 217.13 L145.59 216.49 L145.81 215.82 L146.04 215.12 L146.26 214.39 L146.49 213.63 L146.71 212.84 L146.94 212.01 L147.16 211.15 L147.39 210.26 L147.61 209.33 L147.84 208.36 L148.06 207.36 L148.29 206.32 L148.51 205.24 L148.74 204.12 L148.97 202.96 L149.19 201.76 L149.42 200.52 L149.64 199.24 L149.87 197.91 L150.09 196.54 L150.32 195.13 L150.54 193.68 L150.77 192.18 L150.99 190.63 L151.22 189.04 L151.44 187.41 L151.67 185.73 L151.89 184.01 L152.12 182.24 L152.34 180.42 L152.57 178.56 L152.79 176.65 L153.02 174.70 L153.24 172.71 L153.47 170.67 L153.69 168.59 L153.92 166.46 L154.14 164.30 L154.37 162.09 L154.59 159.84 L154.82 157.55 L155.04 155.22 L155.27 152.86 L155.49 150.46 L155.72 148.02 L155.94 145.55 L156.17 143.05 L156.39 140.52 L156.62 137.96 L156.84 135.38 L157.07 132.77 L157.29 130.13 L157.52 127.48 L157.74 124.81 L157.97 122.12 L158.20 119.42 L158.42 116.70 L158.65 113.98 L158.87 111.25 L159.10 108.52 L159.32 105.78 L159.55 103.05 L159.77 100.33 L160.00 97.61 L160.22 94.90 L160.45 92.20 L160.67 89.53 L160.90 86.87 L161.12 84.23 L161.35 81.62 L161.57 79.04 L161.80 76.49 L162.02 73.98 L162.25 71.50 L162.47 69.07 L162.70 66.68 L162.92 64.34 L163.15 62.05 L163.37 59.82 L163.60 57.64 L163.82 55.53 L164.05 53.47 L164.27 51.48 L164.50 49.56 L164.72 47.72 L164.95 45.94 L165.17 44.24 L165.40 42.62 L165.62 41.09 L165.85 39.63 L166.07 38.27 L166.30 36.99 L166.52 35.79 L166.75 34.70 L166.97 33.69 L167.20 32.78 L167.43 31.96 L167.65 31.24 L167.88 30.62 L168.10 30.10 L168.33 29.68 L168.55 29.36 L168.78 29.14 L169.00 29.02 L169.23 29.01 L169.45 29.09 L169.68 29.28 L169.90 29.57 L170.13 29.95 L170.35 30.44 L170.58 31.03 L170.80 31.72 L171.03 32.50 L171.25 33.38 L171.48 34.36 L171.70 35.43 L171.93 36.59 L172.15 37.84 L172.38 39.18 L172.60 40.61 L172.83 42.12 L173.05 43.71 L173.28 45.38 L173.50 47.13 L173.73 48.96 L173.95 50.86 L174.18 52.82 L174.40 54.86 L174.63 56.95 L174.85 59.11 L175.08 61.33 L175.30 63.60 L175.53 65.92 L175.75 68.30 L175.98 70.71 L176.21 73.18 L176.43 75.68 L176.66 78.21 L176.88 80.78 L177.11 83.39 L177.33 86.01 L177.56 88.67 L177.78 91.34 L178.01 94.03 L178.23 96.73 L178.46 99.45 L178.68 102.17 L178.91 104.90 L179.13 107.64 L179.36 110.37 L179.58 113.10 L179.81 115.82 L180.03 118.54 L180.26 121.25 L180.48 123.94 L180.71 126.62 L180.93 129.28 L181.16 131.92 L181.38 134.54 L181.61 137.13 L181.83 139.70 L182.06 142.24 L182.28 144.75 L182.51 147.23 L182.73 149.68 L182.96 152.09 L183.18 154.46 L183.41 156.80 L183.63 159.10 L183.86 161.37 L184.08 163.59 L184.31 165.77 L184.53 167.91 L184.76 170.00 L184.99 172.06 L185.21 174.06 L185.44 176.03 L185.66 177.95 L185.89 179.82 L186.11 181.65 L186.34 183.44 L186.56 185.18 L186.79 186.87 L187.01 188.52 L187.24 190.13 L187.46 191.68 L187.69 193.20 L187.91 194.67 L188.14 196.09 L188.36 197.47 L188.59 198.81 L188.81 200.11 L189.04 201.36 L189.26 202.58 L189.49 203.75 L189.71 204.88 L189.94 205.97 L190.16 207.03 L190.39 208.04 L190.61 209.02 L190.84 209.96 L191.06 210.87 L191.29 211.74 L191.51 212.57 L191.74 213.38 L191.96 214.15 L192.19 214.89 L192.41 215.60 L192.64 216.28 L192.86 216.93 L193.09 217.55 L193.31 218.15 L193.54 218.71 L193.76 219.26 L193.99 219.78 L194.22 220.27 L194.44 220.74 L194.67 221.19 L194.89 221.62 L195.12 222.03 L195.34 222.42 L195.57 222.78 L195.79 223.13 L196.02 223.47 L196.24 223.78 L196.47 224.08 L196.69 224.37 L196.92 224.63 L197.14 224.89 L197.37 225.13 L197.59 225.36 L197.82 225.57 L198.04 225.78 L198.27 225.97 L198.49 226.15 L198.72 226.32 L198.94 226.48 L199.17 226.63 L199.39 226.77 L199.62 226.91 L199.84 227.04 L200.07 227.15 L200.29 227.27 L200.52 227.37 L200.74 227.47 L200.97 227.56 L201.19 227.65 L201.42 227.73 L201.64 227.80 L201.87 227.87 L202.09 227.94 L202.32 228.00 L202.54 228.06 L202.77 228.11 L203.00 228.16 L203.22 228.21 L203.45 228.26 L203.67 228.30 L203.90 228.33 L204.12 228.37 L204.35 228.40 L204.57 228.43 L204.80 228.46 L205.02 228.49 L205.25 228.51 L205.47 228.53 L205.70 228.56 L205.92 228.57 L206.15 228.59 L206.37 228.61 L206.60 228.62 L206.82 228.64 L207.05 228.65 L207.27 228.66 L207.50 228.68 L207.72 228.69 L207.95 228.70 L208.17 228.70 L208.40 228.71 L208.62 228.72 L208.85 228.73 L209.07 228.73 L209.30 228.74 L209.52 228.74 L209.75 228.75 L209.97 228.75 L210.20 228.76 L210.42 228.76 L210.65 228.76 L210.87 228.77 L211.10 228.77 L211.32 228.77 L211.55 228.78 L211.77 228.78 L212.00 228.78" fill="none" stroke="#2e8b57" stroke-width="2.50" stroke-linecap="square" stroke-linejoin="round" stroke-dasharray="4.300 4.950"/>
<path d="M405.70 228.80 L405.46 228.80 L405.22 228.80 L404.97 228.80 L404.73 228.80 L404.49 228.80 L404.25 228.80 L404.01 228.80 L403.76 228.80 L403.52 228.80 L403.28 228.80 L403.04 228.80 L402.79 228.80 L402.55 228.80 L402.31 228.80 L402.07 228.80 L401.83 228.80 L401.58 228.80 L401.34 228.80 L401.10 228.80 L400.86 228.80 L400.62 228.80 L400.37 228.80 L400.13 228.80 L399.89 228.80 L399.65 228.80 L399.40 228.80 L399.16 228.80 L398.92 228.80 L398.68 228.80 L398.44 228.80 L398.19 228.80 L397.95 228.80 L397.71 228.80 L397.47 228.80 L397.23 228.80 L396.98 228.80 L396.74 228.80 L396.50 228.80 L396.26 228.80 L396.01 228.80 L395.77 228.80 L395.53 228.80 L395.29 228.80 L395.05 228.80 L394.80 228.80 L394.56 228.80 L394.32 228.80 L394.08 228.80 L393.84 228.80 L393.59 228.80 L393.35 228.80 L393.11 228.80 L392.87 228.80 L392.63 228.80 L392.38 228.80 L392.14 228.80 L391.90 228.80 L391.66 228.80 L391.41 228.80 L391.17 228.80 L390.93 228.80 L390.69 228.80 L390.45 228.80 L390.20 228.80 L389.96 228.80 L389.72 228.80 L389.48 228.80 L389.24 228.80 L388.99 228.80 L388.75 228.80 L388.51 228.80 L388.27 228.80 L388.02 228.80 L387.78 228.80 L387.54 228.80 L387.30 228.80 L387.06 228.80 L386.81 228.80 L386.57 228.80 L386.33 228.80 L386.09 228.80 L385.85 228.80 L385.60 228.80 L385.36 228.80 L385.12 228.80 L384.88 228.80 L384.64 228.80 L384.39 228.80 L384.15 228.80 L383.91 228.80 L383.67 228.80 L383.42 228.80 L383.18 228.80 L382.94 228.80 L382.70 228.80 L382.46 228.80 L382.21 228.80 L381.97 228.80 L381.73 228.80 L381.49 228.80 L381.25 228.80 L381.00 228.80 L380.76 228.80 L380.52 228.80 L380.28 228.80 L380.03 228.80 L379.79 228.80 L379.55 228.80 L379.31 228.80 L379.07 228.80 L378.82 228.80 L378.58 228.80 L378.34 228.80 L378.10 228.80 L377.86 228.80 L377.61 228.80 L377.37 228.80 L377.13 228.80 L376.89 228.80 L376.64 228.80 L376.40 228.80 L376.16 228.80 L375.92 228.80 L375.68 228.80 L375.43 228.80 L375.19 228.80 L374.95 228.80 L374.71 228.80 L374.47 228.80 L374.22 228.80 L373.98 228.80 L373.74 228.80 L373.50 228.80 L373.26 228.80 L373.01 228.80 L372.77 228.80 L372.53 228.80 L372.29 228.80 L372.04 228.80 L371.80 228.80 L371.56 228.80 L371.32 228.80 L371.08 228.80 L370.83 228.80 L370.59 228.80 L370.35 228.80 L370.11 228.80 L369.87 228.80 L369.62 228.80 L369.38 228.80 L369.14 228.80 L368.90 228.80 L368.65 228.80 L368.41 228.80 L368.17 228.80 L367.93 228.80 L367.69 228.80 L367.44 228.80 L367.20 228.80 L366.96 228.80 L366.72 228.80 L366.48 228.80 L366.23 228.80 L365.99 228.80 L365.75 228.80 L365.51 228.80 L365.27 228.80 L365.02 228.80 L364.78 228.80 L364.54 228.80 L364.30 228.80 L364.05 228.80 L363.81 228.80 L363.57 228.80 L363.33 228.80 L363.09 228.80 L362.84 228.80 L362.60 228.80 L362.36 228.80 L362.12 228.80 L361.88 228.80 L361.63 228.80 L361.39 228.80 L361.15 228.80 L360.91 228.80 L360.66 228.80 L360.42 228.80 L360.18 228.80 L359.94 228.80 L359.70 228.80 L359.45 228.80 L359.21 228.80 L358.97 228.80 L358.73 228.80 L358.49 228.80 L358.24 228.80 L358.00 228.80 L357.76 228.80 L357.52 228.80 L357.27 228.80 L357.03 228.80 L356.79 228.80 L356.55 228.80 L356.31 228.80 L356.06 228.80 L355.82 228.80 L355.58 228.80 L355.34 228.80 L355.10 228.80 L354.85 228.80 L354.61 228.80 L354.37 228.80 L354.13 228.80 L353.89 228.80 L353.64 228.80 L353.40 228.80 L353.16 228.80 L352.92 228.80 L352.67 228.80 L352.43 228.80 L352.19 228.80 L351.95 228.80 L351.71 228.80 L351.46 228.80 L351.22 228.80 L350.98 228.80 L350.74 228.80 L350.50 228.80 L350.25 228.80 L350.01 228.80 L349.77 228.80 L349.53 228.80 L349.28 228.80 L349.04 228.80 L348.80 228.80 L348.56 228.80 L348.32 228.80 L348.07 228.80 L347.83 228.80 L347.59 228.80 L347.35 228.80 L347.11 228.80 L346.86 228.80 L346.62 228.80 L346.38 228.80 L346.14 228.80 L345.90 228.80 L345.65 228.80 L345.41 228.80 L345.17 228.80 L344.93 228.80 L344.68 228.80 L344.44 228.80 L344.20 228.80 L343.96 228.80 L343.72 228.80 L343.47 228.80 L343.23 228.80 L342.99 228.80 L342.75 228.80 L342.51 228.80 L342.26 228.80 L342.02 228.80 L341.78 228.80 L341.54 228.80 L341.29 228.80 L341.05 228.80 L340.81 228.80 L340.57 228.80 L340.33 228.80 L340.08 228.80 L339.84 228.80 L339.60 228.80 L339.36 228.80 L339.12 228.80 L338.87 228.80 L338.63 228.80 L338.39 228.80 L338.15 228.80 L337.90 228.80 L337.66 228.80 L337.42 228.80 L337.18 228.80 L336.94 228.80 L336.69 228.80 L336.45 228.80 L336.21 228.80 L335.97 228.80 L335.73 228.80 L335.48 228.80 L335.24 228.80 L335.00 228.80 L334.76 228.80 L334.52 228.80 L334.27 228.80 L334.03 228.80 L333.79 228.80 L333.55 228.80 L333.30 228.80 L333.06 228.80 L332.82 228.80 L332.58 228.80 L332.34 228.80 L332.09 228.80 L331.85 228.80 L331.61 228.80 L331.37 228.80 L331.13 228.80 L330.88 228.80 L330.64 228.80 L330.40 228.80 L330.16 228.80 L329.91 228.80 L329.67 228.80 L329.43 228.80 L329.19 228.80 L328.95 228.80 L328.70 228.80 L328.46 228.80 L328.22 228.80 L327.98 228.80 L327.74 228.80 L327.49 228.80 L327.25 228.80 L327.01 228.80 L326.77 228.80 L326.53 228.80 L326.28 228.80 L326.04 228.80 L325.80 228.80 L325.56 228.80 L325.31 228.80 L325.07 228.80 L324.83 228.80 L324.59 228.80 L324.35 228.80 L324.10 228.80 L323.86 228.80 L323.62 228.80 L323.38 228.80 L323.14 228.80 L322.89 228.80 L322.65 228.80 L322.41 228.80 L322.17 228.80 L321.92 228.80 L321.68 228.80 L321.44 228.80 L321.20 228.80 L320.96 228.80 L320.71 228.80 L320.47 228.80 L320.23 228.80 L319.99 228.80 L319.75 228.80 L319.50 228.80 L319.26 228.80 L319.02 228.80 L318.78 228.80 L318.53 228.80 L318.29 228.80 L318.05 228.80 L317.81 228.80 L317.57 228.80 L317.32 228.80 L317.08 228.80 L316.84 228.80 L316.60 228.80 L316.36 228.80 L316.11 228.80 L315.87 228.80 L315.63 228.80 L315.39 228.80 L315.15 228.80 L314.90 228.80 L314.66 228.80 L314.42 228.80 L314.18 228.80 L313.93 228.80 L313.69 228.80 L313.45 228.80 L313.21 228.80 L312.97 228.80 L312.72 228.80 L312.48 228.80 L312.24 228.80 L312.00 228.80 L311.76 228.80 L311.51 228.80 L311.27 228.80 L311.03 228.80 L310.79 228.80 L310.54 228.80 L310.30 228.80 L310.06 228.80 L309.82 228.80 L309.58 228.80 L309.33 228.80 L309.09 228.80 L308.85 228.80 L308.61 228.80 L308.37 228.80 L308.12 228.80 L307.88 228.80 L307.64 228.80 L307.40 228.80 L307.16 228.80 L306.91 228.80 L306.67 228.80 L306.43 228.80 L306.19 228.80 L305.94 228.80 L305.70 228.80 L305.46 228.80 L305.22 228.80 L304.98 228.80 L304.73 228.80 L304.49 228.80 L304.25 228.80 L304.01 228.80 L303.77 228.80 L303.52 228.80 L303.28 228.80 L303.04 228.80 L302.80 228.80 L302.55 228.80 L302.31 228.80 L302.07 228.80 L301.83 228.80 L301.59 228.80 L301.34 228.80 L301.10 228.80 L300.86 228.80 L300.62 228.80 L300.38 228.80 L300.13 228.80 L299.89 228.80 L299.65 228.80 L299.41 228.80 L299.16 228.80 L298.92 228.80 L298.68 228.80 L298.44 228.80 L298.20 228.80 L297.95 228.80 L297.71 228.80 L297.47 228.80 L297.23 228.80 L296.99 228.80 L296.74 228.80 L296.50 228.80 L296.26 228.80 L296.02 228.80 L295.78 228.80 L295.53 228.80 L295.29 228.80 L295.05 228.80 L294.81 228.80 L294.56 228.80 L294.32 228.80 L294.08 228.80 L293.84 228.80 L293.60 228.80 L293.35 228.80 L293.11 228.80 L292.87 228.80 L292.63 228.80 L292.39 228.80 L292.14 228.80 L291.90 228.80 L291.66 228.80 L291.42 228.80 L291.17 228.80 L290.93 228.80 L290.69 228.80 L290.45 228.80 L290.21 228.80 L289.96 228.80 L289.72 228.80 L289.48 228.80 L289.24 228.80 L289.00 228.80 L288.75 228.80 L288.51 228.80 L288.27 228.80 L288.03 228.80 L287.79 228.80 L287.54 228.80 L287.30 228.80 L287.06 228.80 L286.82 228.80 L286.57 228.80 L286.33 228.80 L286.09 228.80 L285.85 228.80 L285.61 228.80 L285.36 228.80 L285.12 228.80 L284.88 228.80 L284.64 228.80 L284.40 228.80 L284.15 228.80 L283.91 228.80 L283.67 228.80 L283.43 228.80 L283.18 228.80 L282.94 228.80 L282.70 228.80 L282.46 228.80 L282.22 228.80 L281.97 228.80 L281.73 228.80 L281.49 228.80 L281.25 228.80 L281.01 228.80 L280.76 228.80 L280.52 228.80 L280.28 228.80 L280.04 228.80 L279.79 228.80 L279.55 228.80 L279.31 228.80 L279.07 228.80 L278.83 228.80 L278.58 228.80 L278.34 228.80 L278.10 228.80 L277.86 228.80 L277.62 228.80 L277.37 228.80 L277.13 228.80 L276.89 228.80 L276.65 228.80 L276.41 228.80 L276.16 228.80 L275.92 228.80 L275.68 228.80 L275.44 228.80 L275.19 228.80 L274.95 228.80 L274.71 228.80 L274.47 228.80 L274.23 228.80 L273.98 228.80 L273.74 228.80 L273.50 228.80 L273.26 228.80 L273.02 228.80 L272.77 228.80 L272.53 228.80 L272.29 228.80 L272.05 228.80 L271.80 228.80 L271.56 228.80 L271.32 228.80 L271.08 228.80 L270.84 228.80 L270.59 228.80 L270.35 228.80 L270.11 228.80 L269.87 228.80 L269.63 228.80 L269.38 228.80 L269.14 228.80 L268.90 228.80 L268.66 228.80 L268.42 228.80 L268.17 228.80 L267.93 228.80 L267.69 228.80 L267.45 228.80 L267.20 228.80 L266.96 228.80 L266.72 228.80 L266.48 228.80 L266.24 228.80 L265.99 228.80 L265.75 228.80 L265.51 228.80 L265.27 228.80 L265.03 228.80 L264.78 228.80 L264.54 228.80 L264.30 228.80 L264.06 228.80 L263.81 228.80 L263.57 228.80 L263.33 228.80 L263.09 228.80 L262.85 228.80 L262.60 228.80 L262.36 228.80 L262.12 228.80 L261.88 228.80 L261.64 228.80 L261.39 228.80 L261.15 228.80 L260.91 228.80 L260.67 228.80 L260.42 228.80 L260.18 228.80 L259.94 228.80 L259.70 228.80 L259.46 228.80 L259.21 228.80 L258.97 228.80 L258.73 228.80 L258.49 228.80 L258.25 228.80 L258.00 228.80 L257.76 228.80 L257.52 228.80 L257.28 228.80 L257.04 228.80 L256.79 228.80 L256.55 228.80 L256.31 228.80 L256.07 228.80 L255.82 228.80 L255.58 228.80 L255.34 228.80 L255.10 228.80 L254.86 228.80 L254.61 228.80 L254.37 228.80 L254.13 228.80 L253.89 228.80 L253.65 228.80 L253.40 228.80 L253.16 228.80 L252.92 228.80 L252.68 228.80 L252.43 228.80 L252.19 228.80 L251.95 228.80 L251.71 228.80 L251.47 228.80 L251.22 228.80 L250.98 228.80 L250.74 228.80 L250.50 228.80 L250.26 228.80 L250.01 228.80 L249.77 228.80 L249.53 228.80 L249.29 228.80 L249.05 228.80 L248.80 228.80 L248.56 228.80 L248.32 228.80 L248.08 228.80 L247.83 228.80 L247.59 228.80 L247.35 228.80 L247.11 228.80 L246.87 228.80 L246.62 228.80 L246.38 228.80 L246.14 228.80 L245.90 228.80 L245.66 228.80 L245.41 228.80 L245.17 228.80 L244.93 228.80 L244.69 228.80 L244.44 228.80 L244.20 228.80 L243.96 228.80 L243.72 228.80 L243.48 228.80 L243.23 228.80 L242.99 228.80 L242.75 228.80 L242.51 228.80 L242.27 228.80 L242.02 228.80 L241.78 228.80 L241.54 228.80 L241.30 228.80 L241.05 228.80 L240.81 228.80 L240.57 228.80 L240.33 228.80 L240.09 228.80 L239.84 228.80 L239.60 228.80 L239.36 228.80 L239.12 228.80 L238.88 228.80 L238.63 228.80 L238.39 228.80 L238.15 228.80 L237.91 228.80 L237.67 228.80 L237.42 228.80 L237.18 228.80 L236.94 228.80 L236.70 228.80 L236.45 228.80 L236.21 228.80 L235.97 228.80 L235.73 228.80 L235.49 228.80 L235.24 228.80 L235.00 228.80 L234.76 228.80 L234.52 228.80 L234.28 228.80 L234.03 228.80 L233.79 228.80 L233.55 228.80 L233.31 228.80 L233.06 228.80 L232.82 228.80 L232.58 228.80 L232.34 228.80 L232.10 228.80 L231.85 228.80 L231.61 228.80 L231.37 228.80 L231.13 228.80 L230.89 228.80 L230.64 228.80 L230.40 228.80 L230.16 228.80 L229.92 228.80 L229.68 228.80 L229.43 228.80 L229.19 228.80 L228.95 228.80 L228.71 228.80 L228.46 228.80 L228.22 228.80 L227.98 228.80 L227.74 228.80 L227.50 228.80 L227.25 228.80 L227.01 228.80 L226.77 228.80 L226.53 228.80 L226.29 228.80 L226.04 228.80 L225.80 228.80 L225.56 228.80 L225.32 228.80 L225.07 228.80 L224.83 228.80 L224.59 228.80 L224.35 228.80 L224.11 228.80 L223.86 228.80 L223.62 228.80 L223.38 228.80 L223.14 228.80 L222.90 228.80 L222.65 228.80 L222.41 228.80 L222.17 228.80 L221.93 228.80 L221.69 228.80 L221.44 228.80 L221.20 228.80 L220.96 228.80 L220.72 228.80 L220.47 228.80 L220.23 228.80 L219.99 228.80 L219.75 228.80 L219.51 228.80 L219.26 228.80 L219.02 228.80 L218.78 228.80 L218.54 228.80 L218.30 228.80 L218.05 228.80 L217.81 228.80 L217.57 228.80 L217.33 228.80 L217.08 228.80 L216.84 228.80 L216.60 228.80 L216.36 228.80 L216.12 228.80 L215.87 228.80 L215.63 228.80 L215.39 228.80 L215.15 228.80 L214.91 228.79 L214.66 228.79 L214.42 228.79 L214.18 228.79 L213.94 228.79 L213.69 228.79 L213.45 228.79 L213.21 228.79 L212.97 228.79 L212.73 228.79 L212.48 228.78 L212.24 228.78 L212.00 228.78" fill="none" stroke="#2e8b57" stroke-width="2.50" stroke-linecap="square" stroke-linejoin="round" stroke-dasharray="4.300 4.950" stroke-dashoffset="6.05"/>
<path d="M31.90 240.5v-4.6M31.90 0.5v4.6M50.59 240.5v-2.8M50.59 0.5v2.8M69.28 240.5v-2.8M69.28 0.5v2.8M87.97 240.5v-2.8M87.97 0.5v2.8M106.66 240.5v-2.8M106.66 0.5v2.8M125.35 240.5v-4.6M125.35 0.5v4.6M144.04 240.5v-2.8M144.04 0.5v2.8M162.73 240.5v-2.8M162.73 0.5v2.8M181.42 240.5v-2.8M181.42 0.5v2.8M200.11 240.5v-2.8M200.11 0.5v2.8M218.80 240.5v-4.6M218.80 0.5v4.6M237.49 240.5v-2.8M237.49 0.5v2.8M256.18 240.5v-2.8M256.18 0.5v2.8M274.87 240.5v-2.8M274.87 0.5v2.8M293.56 240.5v-2.8M293.56 0.5v2.8M312.25 240.5v-4.6M312.25 0.5v4.6M330.94 240.5v-2.8M330.94 0.5v2.8M349.63 240.5v-2.8M349.63 0.5v2.8M368.32 240.5v-2.8M368.32 0.5v2.8M387.01 240.5v-2.8M387.01 0.5v2.8M405.70 240.5v-4.6M405.70 0.5v4.6" stroke="#555" stroke-width="1.1" fill="none"/>
<path d="M24.55 0V241.4" stroke="#000" stroke-width="1.15" fill="none"/><path d="M413 0V241.4" stroke="#000" stroke-width="1.4" fill="none"/>
<path d="M24 0.5H413.7" stroke="#000" stroke-width="1.35" fill="none"/>
<path d="M24 240.85H413.6" stroke="#000" stroke-width="1.4" fill="none"/>
<text x="32.00" y="258.7" font-size="13.85" fill="#666" text-anchor="middle">60</text>
<text x="125.45" y="258.7" font-size="13.85" fill="#666" text-anchor="middle">65</text>
<text x="218.90" y="258.7" font-size="13.85" fill="#666" text-anchor="middle">70</text>
<text x="312.35" y="258.7" font-size="13.85" fill="#666" text-anchor="middle">75</text>
<text x="405.80" y="258.7" font-size="13.85" fill="#666" text-anchor="middle">80</text>
<text transform="translate(14.4 120.85) rotate(-90)" font-size="13.7" fill="#666" text-anchor="middle">Probability density</text>
<text x="210.3" y="282.35" font-size="13.85" fill="#666" font-style="italic">H<tspan font-style="normal" font-size="11" dy="2.6" dx="-0.4">0</tspan></text>
<rect x="221.9" y="12.5" width="186.4" height="89.4" rx="3" ry="3" fill="#fff" stroke="#000" stroke-width="1.5"/>
<line x1="225.3" y1="20.6" x2="268.6" y2="20.6" stroke="#dc143c" stroke-width="2.0" stroke-linecap="square"/>
<text x="277.1" y="25.9" font-size="13.85" fill="#000">WMAP+BAO(ΛCDM)</text>
<line x1="225.3" y1="44.8" x2="268.6" y2="44.8" stroke="#000080" stroke-width="2.0" stroke-linecap="square"/>
<text x="277.1" y="50.1" font-size="13.85" fill="#000">WMAP+BAO(wCDM)</text>
<line x1="225.3" y1="69.0" x2="268.6" y2="69.0" stroke="#ff8c00" stroke-width="2.3" stroke-linecap="square" stroke-dasharray="4.700 4.700"/>
<text x="277.1" y="74.5" font-size="13.85" fill="#000">SH0ES(2018)</text>
<line x1="225.3" y1="93.2" x2="268.6" y2="93.2" stroke="#2e8b57" stroke-width="2.3" stroke-linecap="square" stroke-dasharray="4.700 4.700"/>
<text x="277.1" y="98.7" font-size="13.85" fill="#000">Planck(2018)</text>
</svg></body></html>
